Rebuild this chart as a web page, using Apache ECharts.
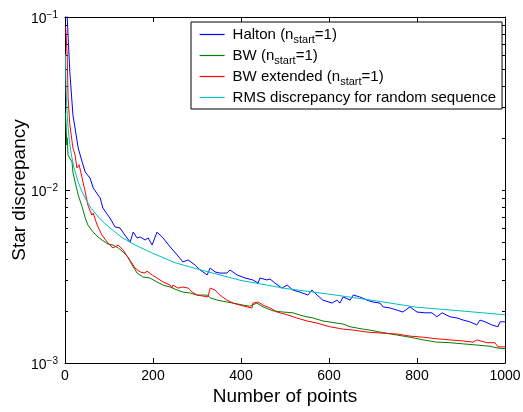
<!DOCTYPE html>
<html>
<head>
<meta charset="utf-8">
<script src="https://cdn.jsdelivr.net/npm/echarts@6/dist/echarts.min.js"></script>
<style>html,body{margin:0;padding:0;background:#fff;}#c{width:523px;height:412px;}</style>
</head>
<body>
<div id="c"></div>
<script>
var FONT = 'Liberation Sans, Arial, Helvetica, sans-serif';
var seriesNames = ['Halton (n{sub|start}=1)', 'BW (n{sub|start}=1)', 'BW extended (n{sub|start}=1)', 'RMS discrepancy for random sequence'];
var xTicks = [0, 200, 400, 600, 800, 1000];
var yMajorTicks = [0.001, 0.01, 0.1];
var yMinorTicks = [0.002,0.003,0.004,0.005,0.006,0.007,0.008,0.009,0.02,0.03,0.04,0.05,0.06,0.07,0.08,0.09];

var haltonN = [2,4,5,11,18,30,39,46,57,64,75,80,86,102,114,125,136,148,155,164,171,182,189,198,209,221,239,255,268,280,296,307,323,330,341,352,368,375,391,409,427,439,443,459,466,477,493,505,518,534,552,561,573,586,607,618,625,632,648,655,670,686,700,716,723,739,755,768,784,800,818,834,845,857,875,891,905,920,936,943,955,970,984,989,1000];
var haltonV = [0.15,0.11,0.1,0.0481,0.0272,0.0175,0.0145,0.0127,0.0117,0.0103,0.00935,0.0090,0.00787,0.00689,0.00611,0.00603,0.00549,0.00500,0.00571,0.00528,0.00535,0.00514,0.00528,0.00481,0.00571,0.00535,0.00469,0.00421,0.00384,0.00394,0.00368,0.00345,0.00323,0.00354,0.00336,0.00331,0.00331,0.00345,0.00323,0.00310,0.00302,0.00290,0.00310,0.00302,0.00306,0.00290,0.00271,0.00282,0.00264,0.00257,0.00247,0.00264,0.00247,0.00231,0.00222,0.00231,0.00222,0.00241,0.00231,0.00247,0.00241,0.00231,0.00225,0.00222,0.00211,0.00208,0.00202,0.00197,0.00211,0.00197,0.00195,0.00195,0.00185,0.00195,0.00185,0.00182,0.00177,0.00173,0.00166,0.00177,0.00173,0.00166,0.00162,0.00173,0.00173];

var bwN = [1,2,4,5,7,16,18,23,30,39,46,52,64,75,84,91,98,109,121,132,143,152,164,177,193,209,223,239,255,268,284,300,323,330,346,368,382,405,420,436,450,473,496,518,541,564,586,618,632,648,677,693,716,755,784,814,845,875,905,936,966,984,1000];
var bwV = [0.028,0.0247,0.0182,0.0200,0.0159,0.0145,0.0127,0.0111,0.00935,0.00798,0.00689,0.00628,0.00571,0.00535,0.00514,0.00500,0.00487,0.00481,0.00462,0.00438,0.00410,0.00370,0.00331,0.00314,0.00310,0.00294,0.00282,0.00275,0.00264,0.00257,0.00254,0.00247,0.00247,0.00238,0.00231,0.00225,0.00222,0.00216,0.00213,0.00222,0.00211,0.00200,0.00197,0.00195,0.00187,0.00182,0.00175,0.00170,0.00168,0.00162,0.00157,0.00155,0.00151,0.00145,0.00141,0.00136,0.00132,0.00131,0.00129,0.00127,0.00125,0.00122,0.00121];

var bwExtN = [1,2,5,7,11,18,23,27,32,39,46,52,61,64,73,84,96,109,121,132,148,152,159,171,182,186,198,209,223,239,243,245,257,268,280,289,300,325,330,341,352,368,382,398,414,425,427,439,450,466,482,505,527,550,573,602,632,655,686,716,755,784,814,845,875,905,927,936,959,977,984,1000];
var bwExtV = [0.088,0.084,0.0603,0.0340,0.0238,0.0175,0.0159,0.0134,0.0140,0.0117,0.00973,0.00818,0.00716,0.00736,0.00628,0.00549,0.00500,0.00462,0.00481,0.00450,0.0039,0.00379,0.00354,0.00336,0.00331,0.00340,0.00323,0.00310,0.00294,0.00282,0.00271,0.00282,0.00271,0.00275,0.00271,0.00257,0.00247,0.00241,0.00271,0.00264,0.00247,0.00231,0.00222,0.00216,0.00211,0.00208,0.00222,0.00225,0.00216,0.00208,0.00197,0.00190,0.00182,0.00175,0.00170,0.00162,0.00157,0.00155,0.00151,0.00149,0.00147,0.00143,0.00141,0.00138,0.00136,0.00134,0.00132,0.00136,0.00131,0.00131,0.00124,0.00124];

var rmsN = [1,2,3,5,7,10,15,20,30,40,50,60,80,100,130,160,200,250,300,400,500,600,700,800,900,1000];
var rmsV = [0.0607,0.0429,0.0350,0.0271,0.0229,0.0192,0.0157,0.0136,0.0111,0.0096,0.0086,0.0078,0.0068,0.0061,0.0053,0.0048,0.0043,0.0038,0.0035,0.0030,0.0027,0.0025,0.0023,0.0021,0.0020,0.0019];

var colors = ['#0000ff', '#008000', '#ff0000', '#00bfbf'];

function zip(a, b) { return a.map(function (v, i) { return [v, b[i]]; }); }
var allData = [zip(haltonN, haltonV), zip(bwN, bwV), zip(bwExtN, bwExtV), zip(rmsN, rmsV)];

var chart = echarts.init(document.getElementById('c'), null, { renderer: 'canvas' });
var black = '#000';
var option = {
  animation: false,
  backgroundColor: '#fff',
  textStyle: { fontFamily: FONT },
  grid: { left: 65, right: 18, top: 17, bottom: 49, containLabel: false, outerBoundsMode: 'none' },
  legend: {
    show: true,
    orient: 'vertical',
    left: 191, top: 22,
    padding: [2, 6, 1, 8],
    itemGap: 0,
    itemWidth: 25,
    itemHeight: 14,
    borderColor: black, borderWidth: 1, backgroundColor: '#fff',
    itemStyle: { opacity: 0 },
    lineStyle: { width: 1.2, opacity: 1 },
    data: seriesNames.slice(),
    textStyle: {
      fontFamily: FONT, fontSize: 15, color: black, lineHeight: 21, padding: [0, 0, 0, 3],
      rich: { sub: { fontFamily: FONT, fontSize: 11, color: black, verticalAlign: 'bottom', lineHeight: 5 } }
    }
  },
  xAxis: [
    {
      type: 'value', min: 0, max: 1000, interval: 200, position: 'bottom',
      axisLine: { show: true, onZero: false, lineStyle: { color: black, width: 1 } },
      axisTick: { show: true, inside: true, length: 5, lineStyle: { color: black } },
      axisLabel: { show: true, color: black, fontSize: 14, fontFamily: FONT, margin: 6, formatter: function (v) { return String(v); } },
      splitLine: { show: false },
      name: 'Number of points', nameLocation: 'middle', nameGap: 24, nameMoveOverlap: false,
      nameTextStyle: { fontSize: 19, color: black, fontFamily: FONT }
    },
    {
      type: 'value', min: 0, max: 1000, interval: 200, position: 'top',
      axisLine: { show: true, onZero: false, lineStyle: { color: black, width: 1 } },
      axisTick: { show: true, inside: true, length: 5, lineStyle: { color: black } },
      axisLabel: { show: false }, splitLine: { show: false }
    }
  ],
  yAxis: [
    {
      type: 'log', logBase: 10, min: 0.001, max: 0.1, position: 'left',
      axisLine: { show: true, onZero: false, lineStyle: { color: black, width: 1 } },
      axisTick: { show: true, inside: true, length: 5, lineStyle: { color: black }, customValues: yMajorTicks },
      axisLabel: {
        show: true, color: black, margin: 7, customValues: yMajorTicks,
        formatter: function (v) {
          var e = Math.round(Math.log(v) / Math.LN10);
          return '{b|10}{s|' + (e < 0 ? '\u2212' : '') + Math.abs(e) + '}';
        },
        rich: {
          b: { fontSize: 14, fontFamily: FONT, color: black, lineHeight: 14, padding: [5, 0, 0, 0] },
          s: { fontSize: 10, fontFamily: FONT, color: black, lineHeight: 10, verticalAlign: 'top' }
        }
      },
      splitLine: { show: false },
      name: 'Star discrepancy', nameLocation: 'middle', nameGap: 36, nameRotate: 90, nameMoveOverlap: false,
      nameTextStyle: { fontSize: 19, color: black, fontFamily: FONT }
    },
    {
      type: 'log', logBase: 10, min: 0.001, max: 0.1, position: 'left',
      axisLine: { show: false },
      axisTick: { show: true, inside: true, length: 3, lineStyle: { color: black }, customValues: yMinorTicks },
      axisLabel: { show: false }, splitLine: { show: false }
    },
    {
      type: 'log', logBase: 10, min: 0.001, max: 0.1, position: 'right',
      axisLine: { show: true, onZero: false, lineStyle: { color: black, width: 1 } },
      axisTick: { show: true, inside: true, length: 3, lineStyle: { color: black }, customValues: yMinorTicks.concat(yMajorTicks) },
      axisLabel: { show: false }, splitLine: { show: false }
    }
  ],
  series: allData.map(function (d, i) {
    return {
      name: seriesNames[i], type: 'line', data: d, xAxisIndex: 0, yAxisIndex: 0,
      symbol: 'none', showSymbol: false, clip: true,
      lineStyle: { color: colors[i], width: 1 }, itemStyle: { color: colors[i] }
    };
  })
};
chart.setOption(option);
</script>
</body>
</html>
